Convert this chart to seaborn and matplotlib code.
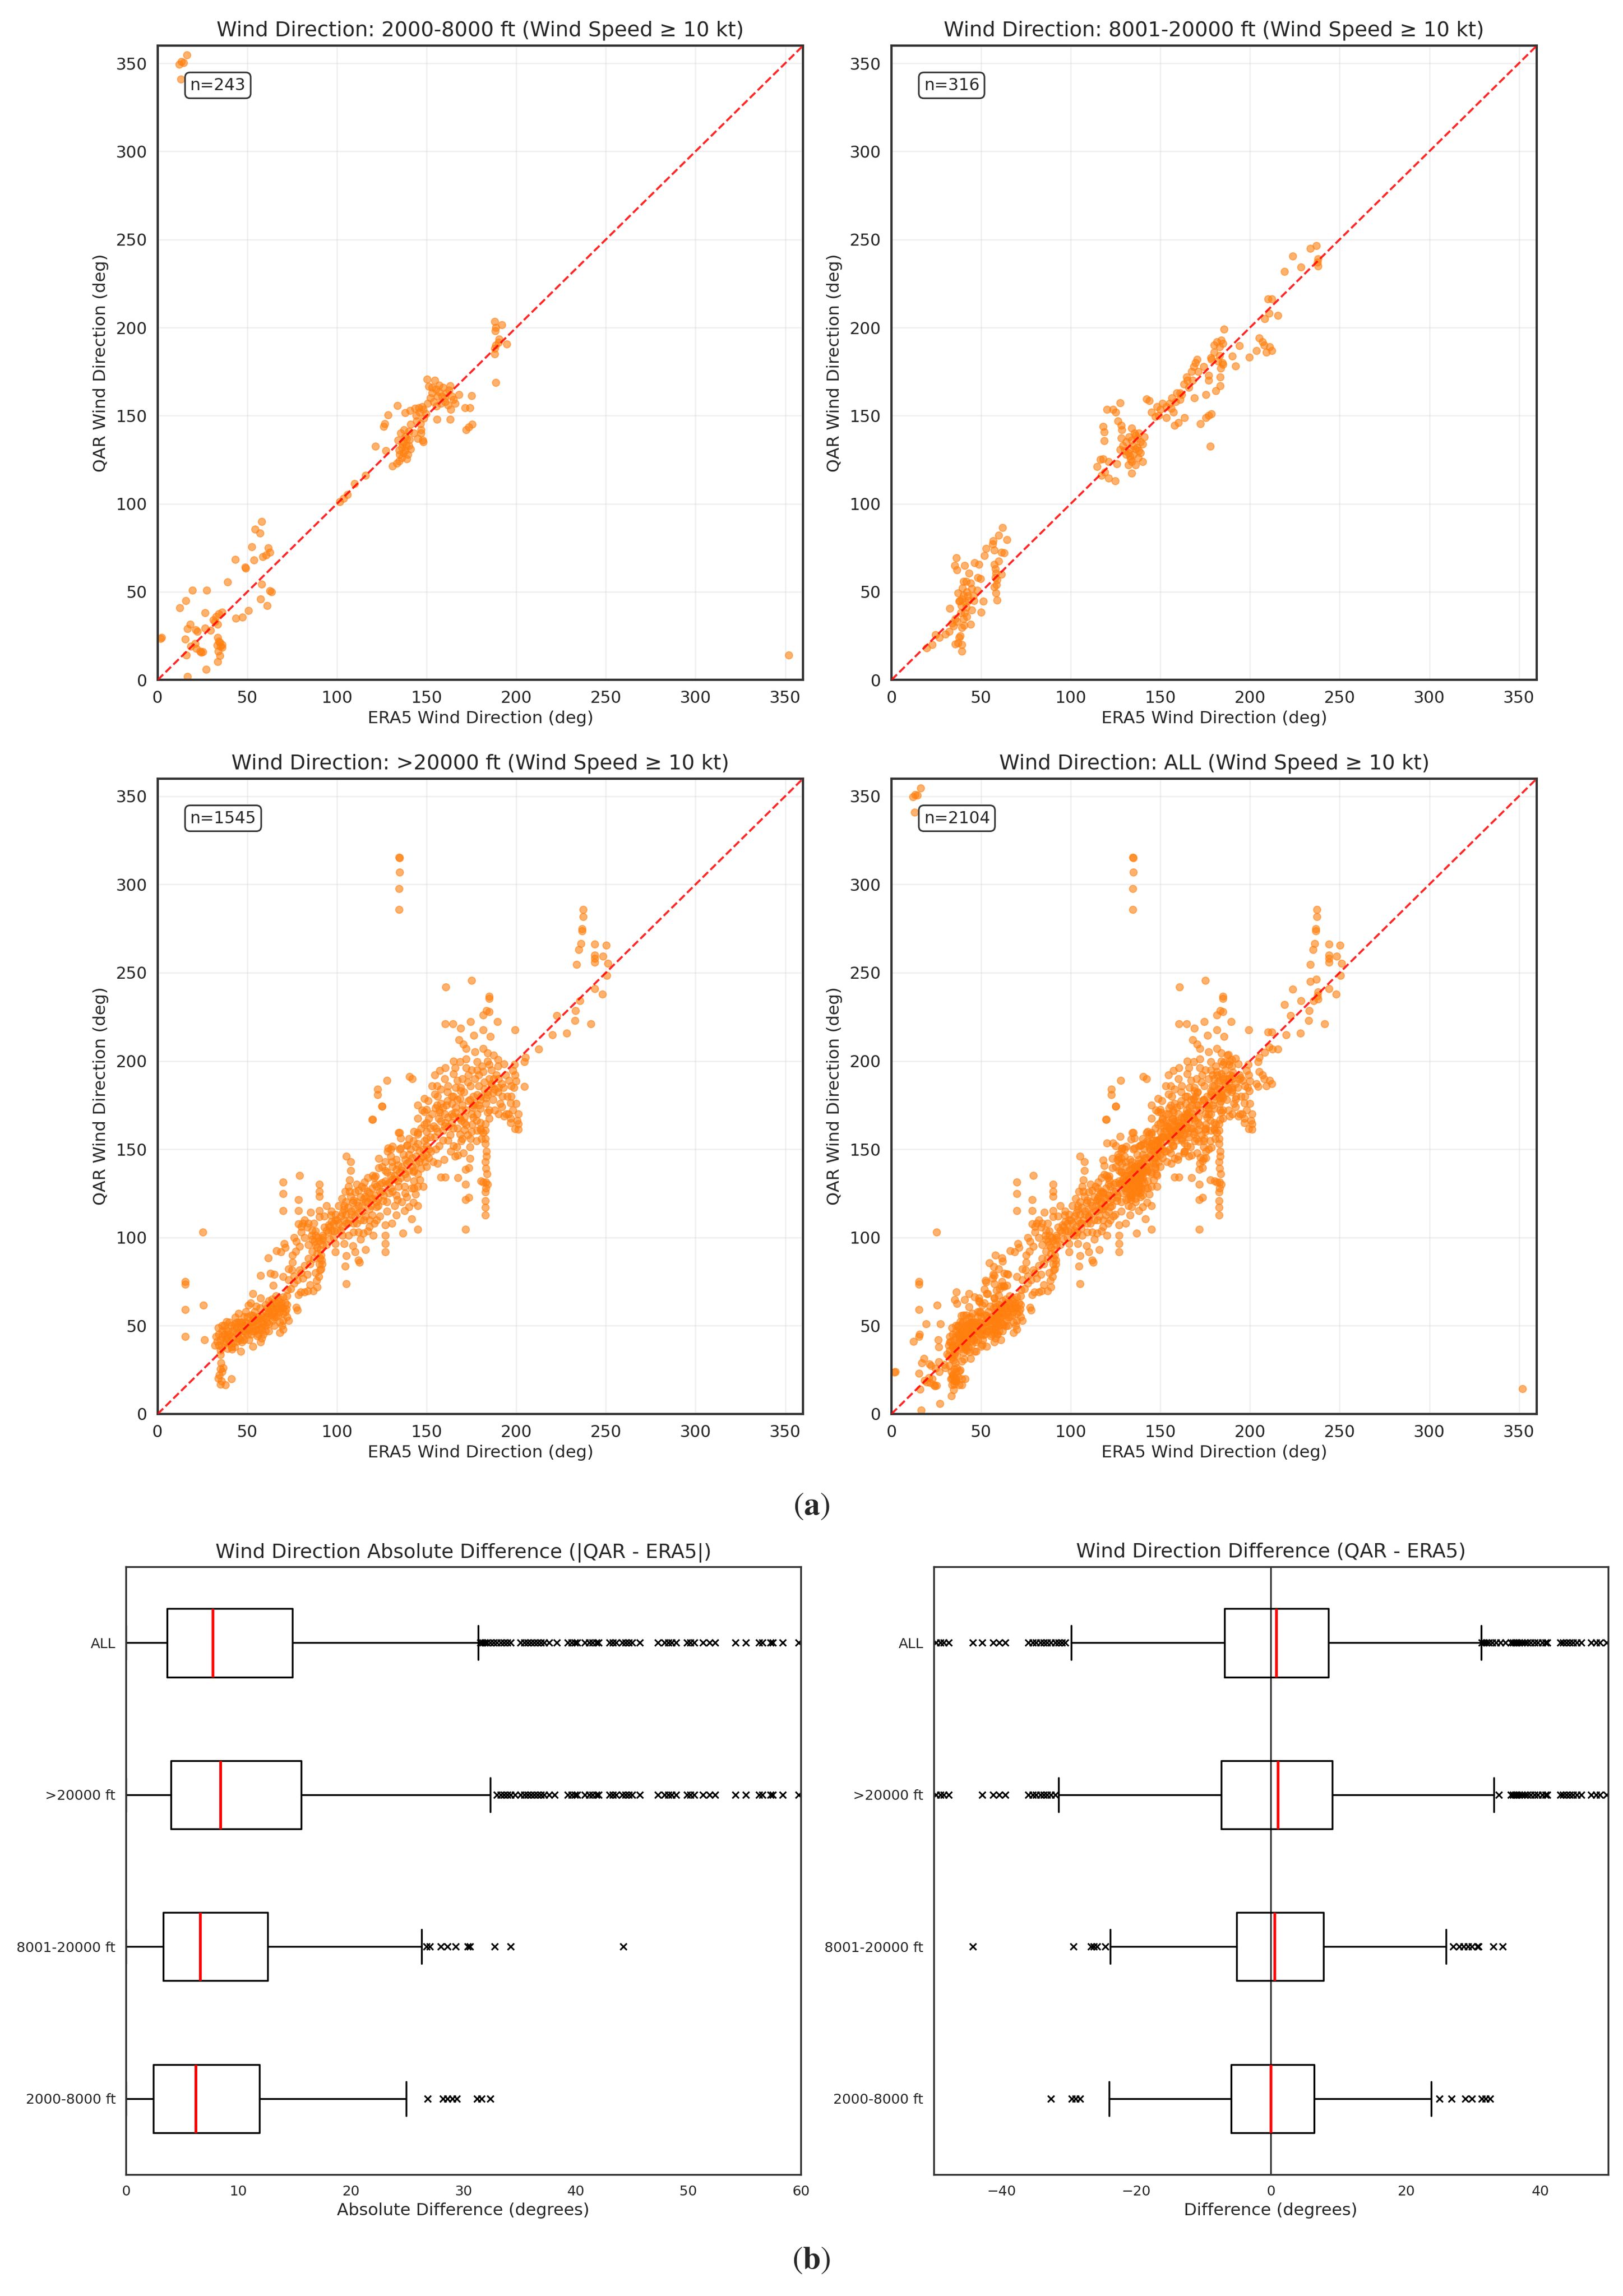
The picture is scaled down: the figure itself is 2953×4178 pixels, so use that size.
import numpy as np
import pandas as pd
import matplotlib
matplotlib.use("Agg")
import matplotlib.pyplot as plt
import seaborn as sns

# ---------------- DATA ----------------
BANDS = ["2000-8000 ft", "8001-20000 ft", ">20000 ft", "ALL"]
N_LABELS = ["n=243", "n=316", "n=1545", "n=2104"]

# (ERA5, QAR) wind direction pairs (subset of points)
LOW_PTS = [
    (11.8, 349.5), (13.3, 351), (14.5, 350.5), (16.2, 354.6), (13.0, 341), (352, 14.2),
    (1.5, 23.5), (2, 24), (16.4, 2), (27, 6), (12.3, 41), (15.5, 45), (19.2, 51), (27.4, 51),
    (26.3, 38), (18, 31.4), (16.7, 29), (21.2, 28.3), (22, 27.5), (26.3, 29.4), (29.5, 28),
    (32.5, 36), (34, 37.6), (35.9, 38.5), (31, 34), (32, 33), (33.5, 31.4), (15.3, 23),
    (20.8, 20.5), (18.5, 19), (23.6, 16.4), (24.2, 15.7), (25, 16), (16, 14), (21.5, 17.8),
    (33.5, 24), (34.5, 21.2), (35.9, 18.4), (35, 19), (33.8, 16.4), (34.5, 13.7), (33.5, 10.2),
    (33.2, 19.8), (34.1, 22), (36, 20), (39, 55.6), (43.4, 35), (47.3, 35.5), (50.5, 39.3),
    (43.2, 68.2), (48.6, 64), (48.9, 63.5), (52.3, 75.5), (53.7, 68), (54.4, 85.5), (57.1, 83.3),
    (57.8, 90), (58.5, 70), (60.5, 71), (61.5, 75), (62.6, 72.4), (57.8, 54.4), (62.6, 50.5),
    (63.6, 49.9), (57.4, 45.8), (61.1, 42),
    (101.6, 101), (103.7, 103), (105.8, 105.2), (109.9, 111.3), (116, 116), (121.5, 132.5),
    (127.3, 130.2), (130.8, 121.3), (134.5, 124.3), (133.5, 123), (126, 144), (126.5, 145.5),
    (128.4, 150.5), (133.6, 155.7),
    (135, 128), (136, 132), (137, 135), (138, 130), (139, 137), (140, 133), (135.5, 140),
    (137.5, 142), (139.5, 128), (136, 126), (138, 138), (140, 141), (134, 136), (141, 131),
    (137, 129), (136.5, 134), (138.5, 133), (139, 125.5), (134.5, 130.5), (140.5, 136.5),
    (138, 151.6), (140.8, 153), (143.5, 154), (145.5, 154.6), (147.5, 155), (146, 152),
    (148, 153.5), (144, 150), (141, 145), (143, 140), (145, 137), (147, 142), (148, 135),
    (146.5, 145.5), (144.5, 147), (147.7, 136), (147, 140), (148.5, 148.5), (149.5, 151),
    (150.3, 170.8), (154.4, 170), (151, 166.7),
    (152, 160), (153, 163), (154, 158), (155, 165), (156, 161), (157, 163.5), (158, 157),
    (159, 166), (160, 160), (161, 163), (162, 156), (163, 167), (164, 161), (158.5, 161),
    (155.5, 155.5), (153, 166), (157, 167.2), (160.5, 158), (162.5, 164.5), (165, 159),
    (163.5, 153.5), (166, 157), (150.5, 157),
    (168, 162), (175, 161.2), (171.5, 154.4), (174.2, 154.6), (172, 142), (173.5, 143.5),
    (175.4, 145), (155.8, 148), (163.2, 148), (188.6, 168.7), (188, 203.5), (188.6, 200),
    (192, 201.5), (188.3, 198), (188.6, 190), (190, 191.5), (194.6, 190.5), (188, 185),
    (188, 188), (190.5, 193.5),
]

MID_PTS = [
    (19.7, 18), (22.8, 20), (24.4, 25.7), (26.7, 24), (29.9, 26), (32.2, 27.4), (32.5, 40.7),
    (33.8, 32.2), (35.4, 34.7), (34.6, 30.6), (36.2, 69.2), (35.1, 64.8), (36.5, 62.4),
    (37, 49.3), (37.7, 44.5), (39.3, 46), (40.9, 64.8), (40.1, 56), (41.7, 56), (43.2, 60.7),
    (42.5, 47.7), (41.7, 41.2), (40.9, 38), (40.1, 34.7), (39.3, 29.8), (38.2, 25), (37, 20.8),
    (39.3, 20), (39.3, 16.3), (35.4, 20.4), (37.7, 24.1), (44, 31.4), (44.8, 39.6), (46.4, 66.4),
    (48.7, 65.6), (49.5, 57.5), (47.9, 51), (44.8, 51.8), (45.6, 47.7), (51.1, 44.8),
    (49.8, 38.3), (51.9, 70.5), (52.7, 74.6), (56.6, 79), (57.4, 73.8), (59.7, 82.2),
    (61.8, 86.5), (64.5, 79.5), (61.3, 72.5), (62.9, 72.2), (57.4, 65.6), (58.2, 60.7),
    (58.9, 56.7), (57.4, 52.6), (58.2, 49.3), (58.9, 45.3), (61.3, 59.9), (59.7, 67.3),
    (38, 45), (39, 42), (40, 48), (41, 44), (42, 50), (43, 45), (38.5, 38), (40.5, 31),
    (36.5, 33), (39.5, 52), (42, 36), (44, 55), (46, 45), (48, 58), (57.8, 63), (58.5, 54),
    (56.5, 77), (58, 58),
    (114.8, 121), (116.4, 125), (117.1, 116.1), (117.9, 125.4), (121, 114.5), (124.7, 112.9),
    (118.7, 135.7), (117.9, 143.8), (118.7, 140.6), (120.3, 153.6), (123.4, 153.6), (125, 152),
    (127.4, 157.3), (126.3, 147), (128, 144.6), (128.5, 142), (128.1, 137.3), (127.4, 130.8),
    (125.8, 122.6), (131, 135), (132.5, 138), (134, 142.8), (135.5, 140), (137, 137), (139, 135),
    (141, 138), (132, 122), (133.5, 125), (135, 128), (136, 131), (137.5, 126), (139, 129),
    (134, 124), (133, 127), (136, 122), (140, 124), (134.1, 117.4), (140, 134), (142.3, 159.3),
    (143.9, 158.4), (147, 149.5), (150, 153.5), (153.3, 155), (155, 157), (156.5, 160),
    (158.5, 158), (161, 159), (153.3, 148.7), (157.2, 152), (158, 144.6), (160, 146),
    (163.5, 148.7), (161, 163), (163, 168), (164.5, 172), (166, 166), (167.5, 175), (168.5, 178),
    (169.5, 180), (170.6, 182), (169, 160), (172.2, 145.4), (175.3, 148.7), (177, 150),
    (178.5, 151), (177.7, 132.7), (175.3, 162), (176.9, 170), (176.9, 173), (178, 183),
    (178.5, 182), (180, 190), (181.5, 192), (183, 189), (184, 192.7), (185, 191), (183, 184),
    (184.5, 180), (183.5, 177), (185, 179), (185.5, 199.2), (183.2, 167), (183.2, 172),
    (180.8, 164), (194.2, 189.7), (190.2, 183.7), (191.8, 178.3), (199.7, 183.2), (203.6, 187),
    (205, 194), (207, 192), (208, 190), (209, 186), (211, 189), (212.3, 187), (208.3, 204.9),
    (210.7, 208), (210, 216.3), (212, 216.3), (215.4, 206.8), (219.3, 231.8), (223.7, 240.7),
    (228.5, 234.2), (233.5, 245), (237, 246.4), (237.9, 235), (237.9, 239), (237.5, 237),
    (130, 130), (131, 128), (129, 133), (135, 133), (137, 132), (138, 130), (134, 136),
    (136, 139), (133, 131), (132, 129), (138, 140), (121, 124), (119, 118), (145, 152),
    (148, 155), (151, 157), (159, 163), (162, 162), (165, 170), (168, 170), (171, 175),
    (174, 178), (180, 186), (182, 181), (156, 154), (149, 150),
]

HIGH_PTS = [
    (15.4, 75), (15.4, 73.3), (15.4, 59), (15.4, 44), (25, 103), (25.5, 61.6), (26, 42),
    (34.8, 33.7), (35.4, 29), (34.8, 25.6), (34.2, 22), (36, 24), (36.5, 26), (34.8, 16.9),
    (37.8, 16.5), (41.2, 19.8), (33.6, 20.3), (35.5, 18.5),
    (31.8, 39), (32.4, 44), (33.6, 48.8), (36, 50), (38.4, 52.3), (40.8, 44.2), (41.5, 36.6),
    (43.3, 54.7), (45.1, 57), (46.3, 35.5), (46.9, 40.7), (48.1, 50), (50.5, 61.6), (51.8, 62.8),
    (53, 55.8), (53, 38.4), (54.2, 50), (55.4, 44.2), (57.2, 40.7), (57.8, 47.7), (59, 54.7),
    (60.2, 50), (61.5, 57), (62.7, 61.6), (63.9, 65.1), (65.1, 54.7), (66.3, 59.3), (67.5, 64),
    (68.7, 61.6), (69.3, 50), (70, 66.3), (71.8, 59.3), (73, 52.9), (57.2, 65.7), (53, 68),
    (64.5, 72.7), (42.7, 48.8),
    (35, 42), (36, 38), (37, 45), (38, 41), (39, 47), (40, 40), (41, 50), (42, 43), (43, 38),
    (44, 46), (45, 52), (46, 48), (47, 44), (48, 55), (49, 46), (50, 51), (51, 42), (52, 56),
    (53, 47), (54, 58), (55, 53), (56, 48), (57, 60), (58, 52), (59, 45), (60, 58), (61, 52),
    (62, 47), (63, 56), (64, 60), (65, 50), (66, 63), (67, 56), (68, 52), (69, 60), (70, 57),
    (71, 63), (72, 55), (44, 41), (47, 52), (50, 45), (55, 61), (58, 43), (62, 64), (66, 67),
    (68, 46), (39, 37), (45, 43), (52, 49), (60, 62), (64, 53), (70, 48), (37, 40), (49, 58),
    (56, 55), (61, 60),
    (72.4, 70.3), (74.2, 71), (77.2, 60.5), (77.8, 58.7), (78.4, 67.4), (79.6, 69.2), (82, 69.2),
    (83.8, 69.8), (86.9, 69.8), (88.7, 75.6), (89.9, 77.9), (90.5, 81.4), (91.8, 84.9),
    (90.5, 88.4), (89, 94.2), (87.5, 97.7), (85.7, 101.2), (83.3, 105.8), (80.9, 108.1),
    (78.4, 107.6), (77.2, 97.7), (76, 100), (71.2, 94.2), (70.5, 96.5), (68.7, 91.9),
    (66.3, 92.4), (61.5, 88.4), (65.1, 79.1), (62.7, 79.7), (57.2, 78.5), (69.9, 77.9),
    (74.8, 81.4), (79, 81.4), (83.3, 79.1), (69.9, 131.4), (69.9, 124.7), (69.9, 115.3),
    (79, 135.1), (78.4, 121.5), (78.4, 115.3), (85.1, 114.2), (90, 130.2), (90, 126.2),
    (90, 123.3), (90, 115.1), (90, 111.6), (94.2, 118), (96.6, 112.8), (95.4, 107), (98.4, 103.5),
    (99, 96.5), (99, 91.9), (91.8, 98.8), (88.1, 103.5), (93, 105.8),
    (91, 90), (91.5, 87), (90.8, 93), (92, 96), (89.5, 100), (86, 104), (84, 108), (82, 110),
    (80, 106), (75, 86), (73, 76), (76, 74), (81, 77), (85, 73), (88, 80), (92, 101), (95, 103),
    (97, 109), (93, 112), (87, 108), (91, 82), (90, 85), (89, 72),
    (102.7, 122), (104.5, 126.2), (106.3, 129), (107.5, 123.3), (108.7, 119.8), (110, 125.6),
    (111.8, 126.7), (113.6, 129), (115.4, 131.4), (117.2, 133.7), (119.6, 127.9), (121.5, 134.9),
    (123.3, 144.8), (125.1, 174.4), (119.6, 166.9), (105.1, 145.9), (107.5, 143), (107.5, 137.8),
    (106.9, 132.6), (103.9, 115.7), (105.1, 108.1), (103.9, 96.5), (105.1, 89.5), (104.5, 83.7),
    (105.1, 73.8), (106.3, 101.2), (108.7, 95.3), (110, 91.9), (111.8, 87.2), (112.4, 86),
    (116, 93), (114.8, 102.3), (117.2, 103.5), (120.3, 101.2), (120.9, 108.1), (119.6, 112.8),
    (122.1, 117.4), (125.7, 120.9), (126.9, 107), (126.9, 101.2), (126.9, 96.5), (126.9, 91.9),
    (130.5, 108.1), (133, 112.8), (136.6, 102.3), (145.1, 104.7), (133.6, 121.5), (137.8, 115.1),
    (141.5, 110.5), (140.2, 117.4), (142.7, 119.8), (145.1, 118), (143.9, 124.4), (145.1, 129),
    (146.3, 132.6), (148.1, 129), (141.5, 127.9), (137.8, 129), (135.4, 133.7), (133, 138.4),
    (130.5, 143), (128.1, 148.8), (129.9, 150), (134.2, 159.3), (135.4, 156.4), (139, 152.3),
    (143.9, 151.2), (145.1, 159.3), (148.7, 164), (151.2, 167.4), (126.9, 143), (123.3, 139.5),
    (120.9, 133.7), (115.6, 123.3), (139, 141.9), (142.7, 137.2), (134.2, 129),
    (100, 104), (101, 108), (102, 112), (103, 106), (104, 118), (105, 113), (106, 117),
    (108, 113), (109, 108), (110, 116), (111, 120), (112, 114), (113, 110), (114, 118),
    (115, 122), (116, 112), (117, 120), (118, 125), (119, 118), (121, 124), (122, 129),
    (123, 122), (124, 130), (125, 126), (127, 132), (128, 137), (129, 131), (130, 135),
    (131, 140), (132, 133), (134, 141), (136, 138), (138, 144), (140, 147), (142, 145),
    (144, 142), (146, 149), (148, 146), (150, 152), (131, 126), (136, 120), (139, 123),
    (128, 115), (113, 99), (109, 103), (99, 110), (97, 115), (101, 118), (107, 126), (118, 106),
    (124, 112), (132, 118), (143, 132), (147, 139), (150, 140), (103, 101),
    (154.5, 192.2), (155.6, 186), (156.2, 179.9), (157.4, 194.7), (160.4, 196), (165, 192.8),
    (168, 212), (170.4, 209.5), (172.1, 207), (176.2, 214.4), (176.8, 205.2), (178, 199.6),
    (181.5, 207), (184, 204.6), (187.4, 203.3), (189.8, 200.9), (181.5, 194.1), (168.6, 199.6),
    (172.1, 196), (173.3, 192.2), (174.5, 186), (166.2, 184.8), (163.9, 179.9), (161.5, 177.4),
    (159.2, 173.7), (149.8, 172.5), (148.6, 171.2), (145.1, 175), (150.9, 177.4), (154.5, 181.1),
    (156.8, 167.5), (160.4, 165), (163.9, 170), (166.2, 173.7), (168.6, 178.6), (170.9, 182.3),
    (173.3, 177.4), (175.6, 173.7), (178, 170), (180.4, 179.9), (183.9, 182.3), (186.2, 186),
    (187.4, 189.8), (189.8, 182.3), (192.1, 179.9), (193.3, 168.8), (195.6, 170), (196.8, 167.5),
    (200.4, 166.3), (201, 161.4), (196.8, 176.2), (198, 194.7), (199.2, 192.2), (199.8, 188.5),
    (198.6, 184.8), (204.5, 185.4), (185, 167.5), (182.7, 164.4), (181.5, 159.5), (182.7, 153.3),
    (178, 160.7), (174.5, 155.8), (168.6, 158.3), (165, 161.9), (159.2, 160.7), (154.5, 157),
    (149.8, 155.8), (145.1, 158.3), (142.7, 154.6), (139.2, 152.1), (135, 159.5), (135.6, 150.7),
    (130.9, 151.5), (128.6, 150.6), (161.5, 182.3), (168.6, 167.5), (172.1, 163.7), (149.8, 165),
    (145.1, 167.5), (148.6, 178.6), (155.6, 174.9), (189.8, 197.2), (193.3, 198.4), (194.5, 170),
    (196.8, 165),
    (153.6, 143), (156, 141.9), (159.6, 144.2), (163.3, 148.8), (166.9, 151.2), (169.3, 154.7),
    (173, 158.1), (175.4, 164), (177.8, 166.3), (162.1, 162.8), (157.2, 170.9), (154.8, 173.3),
    (147.5, 172.1), (148.7, 154.7), (152.4, 148.8), (174.2, 151.2), (177.8, 154.7),
    (180.3, 160.5), (169.3, 166.3), (164.5, 168.6),
    (152, 162), (158, 176), (162, 186), (167, 189), (170, 172), (176, 180), (179, 186),
    (183, 176), (185, 190), (187, 178), (190, 185), (192, 174), (184, 171), (171, 168),
    (167, 178), (160, 170), (157, 152), (162, 155), (166, 146), (171, 161), (176, 168),
    (180, 173), (188, 172), (151, 145), (155, 150), (147, 162), (143, 160), (140, 156),
    (165, 200), (170, 190), (175, 195), (182, 188), (186, 195), (177, 176), (164, 176),
    (158, 184), (153, 186), (169, 185), (179, 192),
    (182.7, 112.8), (182.7, 120.9), (182.7, 125.6), (183, 131.4), (183.6, 136), (182.7, 143),
    (183.3, 148.8), (182.7, 155.8), (182.7, 160.5), (182.7, 117), (183, 128), (183, 139),
    (183.2, 146), (180.7, 156), (180, 161.7), (181.5, 131.4), (180.3, 132), (183.9, 130.2),
    (171.8, 104.7), (171.8, 121.5), (171.8, 130.2), (171.8, 138.4), (167.5, 133.7),
    (157.8, 134.3), (160.2, 134.3), (174.2, 144.8), (167.5, 146.5), (173.4, 122.7),
    (173.4, 139.4), (170.6, 147.8),
    (201, 164.5), (201, 170), (199.4, 161.7), (198, 172), (200, 176), (197, 180),
    (120, 167), (122.7, 184), (122.7, 181), (125, 174.3), (127.8, 189), (142.1, 190),
    (140.3, 191), (160.6, 242), (175, 245.7), (160.4, 220.9), (164.5, 220.9), (168.8, 218.4),
    (174.5, 222.2), (185, 236.7), (185, 235.4), (183.3, 228.6), (185, 228), (181.5, 226),
    (181.5, 217.5), (185.6, 213.8), (189.4, 222.2), (199.4, 217.5), (212.5, 206.8),
    (204.5, 199.6), (205, 202), (220, 214.7), (222.7, 225.6), (228, 215.7), (232.7, 223),
    (233, 228.6), (241.5, 220.9), (235.6, 234.2), (243.9, 241), (248, 237.9), (250.4, 248.4),
    (251, 255.2), (243.9, 266.3), (243.9, 260), (243.9, 258), (243.9, 256), (250.1, 265.7),
    (248.4, 259.3), (233.5, 254.6), (235, 263.2), (236, 266.5), (236.8, 273.7), (236.8, 275),
    (237.4, 281.7), (237.2, 285.7),
    (134.8, 315), (134.6, 315.5), (134.8, 307), (134.5, 297.5), (134.7, 285.8),
]

# further points read from the solid-looking parts of the >20000 ft cloud
HIGH_DENSE_PTS = [
    (34, 45), (34, 39), (36, 44), (36, 47), (38, 48), (38, 43), (40, 45), (40, 52), (42, 47),
    (42, 40), (44, 49), (44, 52), (46, 42), (46, 52), (48, 47), (48, 42), (50, 48), (50, 55),
    (52, 52), (52, 45), (54, 47), (54, 54), (56, 51), (56, 45), (58, 56), (58, 49), (60, 54),
    (60, 47), (62, 58), (62, 51), (64, 57), (64, 63), (66, 55), (66, 61), (68, 58), (68, 65),
    (70, 60), (70, 53), (72, 62), (72, 67), (33, 41), (35, 36), (37, 50), (39, 44), (41, 38),
    (43, 51), (45, 46), (47, 49), (49, 52), (51, 48), (53, 52), (55, 48), (57, 54), (59, 51),
    (61, 55), (63, 61), (65, 58), (67, 60), (69, 63), (71, 58),
    (76, 78), (78, 76), (80, 80), (82, 84), (84, 88), (86, 92), (88, 96), (90, 98), (92, 100),
    (94, 104), (96, 106), (98, 108), (80, 103), (82, 100), (84, 96), (86, 99), (88, 101),
    (79, 95), (77, 92), (75, 90), (73, 82), (85, 85), (87, 88), (89, 91), (94, 96), (96, 99),
    (98, 100), (100, 110), (99, 113), (97, 104),
    (102, 104), (104, 110), (106, 108), (108, 115), (110, 112), (112, 118), (114, 115),
    (116, 120), (118, 116), (120, 122), (122, 120), (124, 126), (126, 124), (128, 130),
    (130, 128), (132, 135), (134, 132), (136, 140), (138, 136), (140, 143), (142, 140),
    (144, 146), (146, 143), (148, 150), (150, 147), (103, 114), (105, 120), (107, 110),
    (109, 121), (111, 108), (113, 123), (115, 110), (117, 126), (119, 122), (121, 130),
    (123, 118), (125, 131), (127, 138), (129, 125), (131, 133), (133, 144), (135, 137),
    (137, 147), (139, 134), (141, 150), (143, 138), (145, 153), (147, 145), (149, 143),
    (111, 130), (115, 128), (120, 135), (125, 140), (130, 146), (135, 150), (140, 138),
    (145, 136), (112, 103), (118, 110), (122, 110), (128, 120), (133, 124), (138, 125),
    (143, 128),
    (150, 160), (152, 157), (154, 163), (156, 160), (158, 166), (160, 163), (162, 168),
    (164, 165), (166, 171), (168, 168), (170, 175), (172, 172), (174, 178), (176, 175),
    (178, 181), (180, 178), (182, 184), (184, 181), (186, 187), (188, 184), (190, 190),
    (192, 187), (194, 192), (196, 189), (151, 150), (153, 170), (155, 162), (157, 172),
    (159, 155), (161, 175), (163, 158), (165, 180), (167, 162), (169, 183), (171, 165),
    (173, 188), (175, 170), (177, 190), (179, 175), (181, 197), (183, 179), (185, 198),
    (187, 182), (189, 192), (191, 176), (193, 185), (195, 180), (197, 186), (199, 198),
    (165, 152), (170, 156), (175, 160), (180, 165), (185, 172), (190, 170), (160, 190),
    (166, 196), (172, 201), (178, 195), (184, 200),
]

# Box statistics, order: 2000-8000, 8001-20000, >20000, ALL
ABS_WLO = [0.0, 0.0, 0.0, 0.0]
ABS_Q1 = [2.45, 3.3, 4.0, 3.64]
ABS_MED = [6.2, 6.6, 8.4, 7.7]
ABS_Q3 = [11.85, 12.6, 15.6, 14.8]
ABS_WHI = [24.9, 26.3, 32.4, 31.3]
ABS_FLIERS = [
    [26.8, 28.2, 28.6, 29.0, 29.4, 31.2, 31.6, 32.4],
    [26.7, 27.0, 28.0, 28.6, 29.3, 30.4, 30.6, 32.8, 34.2, 44.2],
    [33.0, 33.3, 33.6, 33.9, 34.2, 34.6, 35.1, 35.4, 35.7, 36.0, 36.3, 36.6, 36.9, 37.2, 37.6,
     38.1, 39.3, 39.6, 39.9, 40.1, 40.8, 41.2, 41.5, 41.8, 42.0, 43.0, 43.3, 43.6, 44.1, 44.4,
     44.7, 45.0, 45.7, 47.3, 47.9, 48.2, 48.5, 48.9, 49.9, 50.2, 50.5, 51.3, 51.9, 52.4, 54.2,
     55.1, 56.3, 56.6, 57.3, 57.5, 58.4, 59.8],
    [31.5, 31.7, 31.9, 32.1, 32.4, 32.7, 33.0, 33.3, 33.6, 33.9, 34.2, 35.1, 35.4, 35.7, 36.0,
     36.3, 36.6, 36.9, 37.2, 37.6, 38.3, 39.3, 39.6, 39.9, 40.1, 40.8, 41.2, 41.5, 41.8, 42.0,
     43.0, 43.3, 43.6, 44.1, 44.4, 44.7, 45.0, 45.7, 47.3, 47.9, 48.2, 48.5, 48.9, 49.9, 50.2,
     50.5, 51.3, 51.9, 52.4, 54.2, 55.1, 56.3, 56.6, 57.3, 57.5, 58.4, 59.8],
]

DIFF_WLO = [-24.0, -23.8, -31.5, -29.6]
DIFF_Q1 = [-5.9, -5.1, -7.4, -6.9]
DIFF_MED = [0.0, 0.54, 1.0, 0.77]
DIFF_Q3 = [6.4, 7.8, 9.06, 8.5]
DIFF_WHI = [23.8, 26.0, 33.1, 31.2]
DIFF_FLIERS = [
    [-32.6, -29.5, -29.0, -28.3, 25.0, 26.8, 28.8, 29.8, 31.3, 31.8, 32.5],
    [-44.2, -29.3, -26.7, -26.3, -25.8, -24.6, 27.0, 27.9, 28.6, 29.2, 29.8, 30.6, 30.8,
     33.0, 34.4],
    [-49.7, -49.0, -48.5, -47.8, -42.8, -41.2, -40.3, -39.4, -36.0, -35.3, -34.8, -34.2,
     -33.7, -33.2, -32.6, -32.0, 33.8, 35.6, 35.9, 36.2, 36.5, 36.8, 37.2, 37.6, 38.0, 38.5,
     39.1, 39.6, 40.2, 40.7, 41.0, 42.9, 43.3, 43.8, 44.3, 44.8, 45.4, 46.0, 47.5, 48.2, 48.8,
     49.8],
    [-49.7, -49.0, -48.5, -47.8, -44.2, -42.8, -41.2, -40.3, -39.4, -36.0, -35.3, -34.8,
     -34.2, -33.7, -33.2, -32.6, -32.0, -31.5, -31.0, -30.5, 31.3, 31.6, 31.9, 32.3, 32.8,
     33.4, 34.0, 34.8, 35.6, 35.9, 36.2, 36.5, 36.8, 37.2, 37.6, 38.0, 38.5, 39.1, 39.6, 40.2,
     40.7, 41.0, 42.9, 43.3, 43.8, 44.3, 44.8, 45.4, 46.0, 47.5, 48.2, 48.8, 49.8],
]

# ---------------- STYLE ----------------
sns.set_style("white")
plt.rcParams["font.family"] = ["DejaVu Sans"]
plt.rcParams["mathtext.fontset"] = "stix"

ORANGE = "#ff7f0e"
W, H = 2953, 4178
DPI = 300
fig = plt.figure(figsize=(W / DPI, H / DPI), dpi=DPI)


def frame(pts):
    return pd.DataFrame(pts, columns=["ERA5", "QAR"])


frames = [frame(LOW_PTS), frame(MID_PTS), frame(HIGH_PTS + HIGH_DENSE_PTS)]
frames.append(pd.concat(frames, ignore_index=True))

sc_pos = [
    [0.0972, 0.7039, 0.3976, 0.2762],
    [0.5493, 0.7039, 0.3976, 0.2762],
    [0.0972, 0.3842, 0.3976, 0.2767],
    [0.5493, 0.3842, 0.3976, 0.2767],
]

for i in range(4):
    ax = fig.add_axes(sc_pos[i])
    df = frames[i]
    sns.scatterplot(data=df, x="ERA5", y="QAR", ax=ax, color=ORANGE, alpha=0.6,
                    s=10, edgecolor=ORANGE, linewidth=0.4, zorder=2)
    ax.axline((0, 0), slope=1, color="red", linestyle="--", linewidth=0.9, alpha=0.85, zorder=3)
    ax.set_xlim(0, 360)
    ax.set_ylim(0, 360)
    ax.set_xticks(np.arange(0, 351, 50))
    ax.set_yticks(np.arange(0, 351, 50))
    ax.grid(True, alpha=0.3, linewidth=0.6)
    ax.set_axisbelow(True)
    ax.tick_params(labelsize=7.2, length=2.5, width=0.6, direction="out", pad=2)
    ax.set_xlabel("ERA5 Wind Direction (deg)", fontsize=7.45, labelpad=2)
    ax.set_ylabel("QAR Wind Direction (deg)", fontsize=7.45, labelpad=3)
    ax.set_title(f"Wind Direction: {BANDS[i] if i < 3 else 'ALL'} (Wind Speed \u2265 10 kt)",
                 fontsize=9.0, pad=4)
    for sp in ax.spines.values():
        sp.set_color("#333333")
        sp.set_linewidth(1.0)
    ax.text(0.05, 0.95, N_LABELS[i], transform=ax.transAxes, fontsize=7.2, ha="left",
            va="top", bbox=dict(boxstyle="round,pad=0.3", facecolor="white",
                                edgecolor="#333333", linewidth=0.7))


def make_stats(wlo, q1, med, q3, whi, fl):
    out = []
    for k in range(4):
        out.append(dict(whislo=wlo[k], q1=q1[k], med=med[k], q3=q3[k], whishi=whi[k],
                        fliers=fl[k], label=BANDS[k]))
    return out


box_pos = [[0.0776, 0.0529, 0.4158, 0.2647], [0.5753, 0.0529, 0.4155, 0.2647]]
box_stats = [make_stats(ABS_WLO, ABS_Q1, ABS_MED, ABS_Q3, ABS_WHI, ABS_FLIERS),
             make_stats(DIFF_WLO, DIFF_Q1, DIFF_MED, DIFF_Q3, DIFF_WHI, DIFF_FLIERS)]
box_titles = ["Wind Direction Absolute Difference (|QAR - ERA5|)",
              "Wind Direction Difference (QAR - ERA5)"]
box_xlabels = ["Absolute Difference (degrees)", "Difference (degrees)"]
box_xlims = [(0, 60), (-50, 50)]

for j in range(2):
    ax = fig.add_axes(box_pos[j])
    kw = dict(positions=[1, 2, 3, 4], widths=0.45,
              flierprops=dict(marker="x", markersize=3.0, markeredgecolor="black",
                              markeredgewidth=0.7, linestyle="none"),
              medianprops=dict(color="red", linewidth=1.2),
              boxprops=dict(color="black", linewidth=0.8),
              whiskerprops=dict(color="black", linewidth=0.8),
              capprops=dict(color="black", linewidth=0.8))
    try:
        ax.bxp(box_stats[j], orientation="horizontal", **kw)
    except TypeError:
        ax.bxp(box_stats[j], vert=False, **kw)
    if j == 1:
        ax.axvline(0, color="black", linewidth=0.7, alpha=0.8, zorder=0.5)
    ax.set_xlim(*box_xlims[j])
    ax.set_ylim(0.5, 4.5)
    ax.set_yticks([1, 2, 3, 4])
    ax.set_yticklabels(BANDS, fontsize=6.1)
    ax.tick_params(axis="x", labelsize=6.1, length=2.5, width=0.6, pad=2)
    ax.tick_params(axis="y", length=2.5, width=0.6, pad=2)
    ax.set_xlabel(box_xlabels[j], fontsize=7.35, labelpad=2)
    ax.set_title(box_titles[j], fontsize=8.65, pad=4)
    ax.grid(False)
    for sp in ax.spines.values():
        sp.set_color("#333333")
        sp.set_linewidth(0.8)

fig.text(0.5, 1 - 2740 / H, r"$(\mathbf{a})$", ha="center", va="center", fontsize=14)
fig.text(0.5, 1 - 4112 / H, r"$(\mathbf{b})$", ha="center", va="center", fontsize=14)

fig.savefig("out.png", dpi=DPI, facecolor="white")
